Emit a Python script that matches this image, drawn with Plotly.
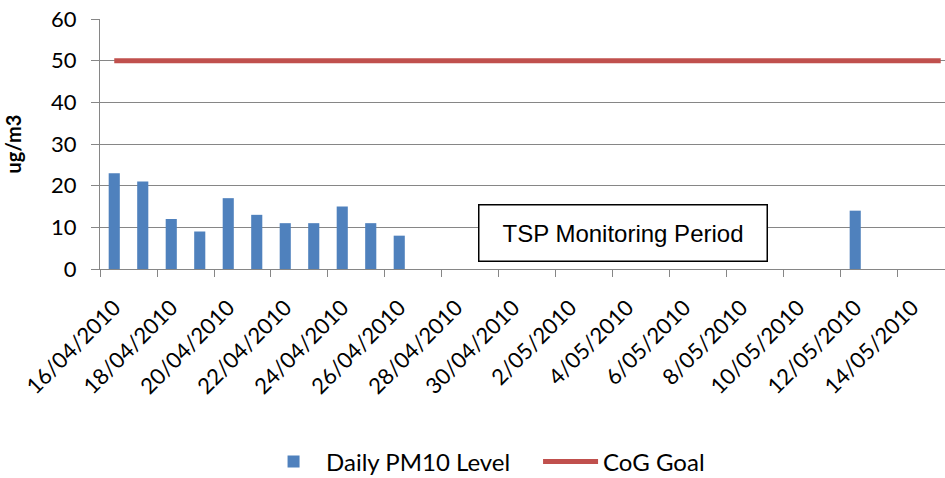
import pandas as pd
import plotly.graph_objects as go

# daily PM10 readings, 16/04/2010 - 15/05/2010
dates = pd.date_range("2010-04-16", "2010-05-15", freq="D")
pm10 = [23, 21, 12, 9, 17, 13, 11, 11, 15, 11, 8,
        None, None, None, None, None, None, None, None, None, None, None, None, None, None, None,
        14, None, None, None]
cog_goal = [50] * len(dates)

tick_dates = dates[::2]
tick_text = [f"{d.day}/{d.month:02d}/{d.year}" for d in tick_dates]

DAY = 86400000
GREY = "#868686"
FONT = "Lato"

fig = go.Figure()
fig.add_bar(x=dates, y=pm10, name="Daily PM10 Level",
            marker=dict(color="#4F81BD", line_width=0), width=0.39 * DAY)
fig.add_scatter(x=dates, y=cog_goal, mode="lines", name="CoG Goal",
                line=dict(color="#C0504D", width=5))

start = dates[0] - pd.Timedelta(hours=12)
end = start + pd.Timedelta(days=29.65)

fig.add_annotation(x="2010-05-03 20:50", y=8.76, text="TSP Monitoring Period",
                   showarrow=False, font=dict(family="Liberation Sans", size=24, color="black"),
                   bgcolor="white", bordercolor="black", borderwidth=1.5, borderpad=5,
                   width=277, height=45, align="center", valign="middle")

fig.update_layout(
    width=945, height=478,
    margin=dict(l=100, r=0, t=19, b=209, autoexpand=False),
    plot_bgcolor="white", paper_bgcolor="white",
    font=dict(family=FONT, color="black"),
    showlegend=True,
    legend=dict(orientation="h", x=0.1906, xanchor="left", y=-0.772, yanchor="middle",
                font=dict(family=FONT, size=24), itemwidth=55,
                entrywidth=207, entrywidthmode="pixels"),
)
fig.update_xaxes(
    type="date", range=[start, end], automargin=False,
    tickmode="array", tickvals=tick_dates, ticktext=tick_text, tickangle=-45,
    ticks="", showgrid=False, showline=True, linecolor=GREY, linewidth=1,
    tickfont=dict(family=FONT, size=22, color="black"), ticklabelstandoff=16,
    minor=dict(ticks="outside", ticklen=7, tickcolor=GREY, tickwidth=1,
               tick0=start, dtick=2 * DAY, showgrid=False),
)
fig.update_yaxes(
    range=[0, 60], dtick=10, showgrid=True, gridcolor=GREY, gridwidth=1, automargin=False,
    zeroline=False, showline=True, linecolor=GREY, linewidth=1,
    ticks="outside", ticklen=8, tickcolor=GREY,
    tickfont=dict(family=FONT, size=22, color="black"), ticklabelstandoff=10,
    title=dict(text="<b>ug/m3</b>", font=dict(family=FONT, size=20), standoff=24),
)

# page body has an 8px default margin; drop it so the figure fills the window
fig.write_html("out.html", config={"displayModeBar": False},
               post_script="document.body.style.margin='0';")
